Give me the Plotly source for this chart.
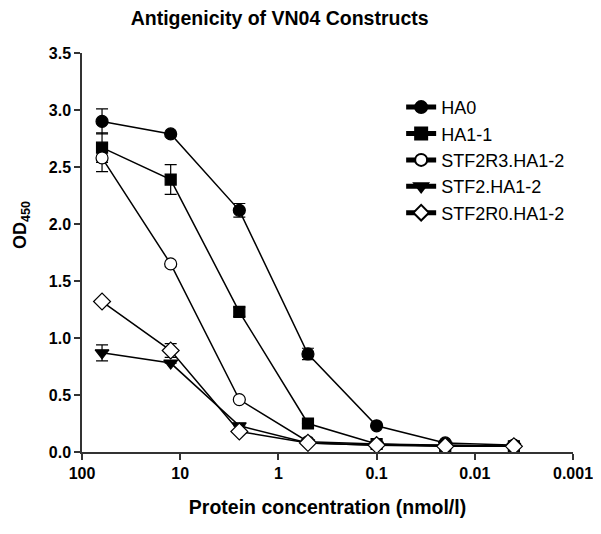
import plotly.graph_objects as go

conc = [62.5, 12.5, 2.5, 0.5, 0.1, 0.02, 0.004]

ha0 = [2.90, 2.79, 2.12, 0.86, 0.23, 0.08, 0.06]
ha0_err = [0.11, 0.0, 0.06, 0.05, 0.0, 0.0, 0.0]
ha11 = [2.67, 2.39, 1.23, 0.25, 0.07, 0.05, 0.05]
ha11_err = [0.13, 0.13, 0.04, 0.0, 0.0, 0.0, 0.0]
stf2r3 = [2.58, 1.65, 0.46, 0.09, 0.07, 0.06, 0.05]
stf2r3_err = [0.12, 0.0, 0.0, 0.0, 0.0, 0.0, 0.0]
stf2 = [0.87, 0.78, 0.23, 0.08, 0.06, 0.06, 0.05]
stf2_err = [0.07, 0.0, 0.0, 0.0, 0.0, 0.0, 0.0]
stf2r0 = [1.32, 0.89, 0.18, 0.08, 0.06, 0.05, 0.05]
stf2r0_err = [0.0, 0.06, 0.0, 0.0, 0.0, 0.0, 0.0]

series = [
    ("HA0", ha0, ha0_err, "circle", "black", 12),
    ("HA1-1", ha11, ha11_err, "square", "black", 11),
    ("STF2R3.HA1-2", stf2r3, stf2r3_err, "circle", "white", 12),
    ("STF2.HA1-2", stf2, stf2_err, "triangle-down", "black", 12),
    ("STF2R0.HA1-2", stf2r0, stf2r0_err, "diamond", "white", 13),
]

fig = go.Figure()
for name, vals, err, sym, fill, sz in series:
    fig.add_trace(go.Scatter(
        x=conc, y=vals, name=name, mode="lines+markers",
        line=dict(color="black", width=1.5),
        marker=dict(symbol=sym, size=sz, color=fill,
                    line=dict(color="black", width=1.2)),
        error_y=dict(type="data", array=err, visible=True,
                     color="black", thickness=1.2, width=6),
    ))

font_family = "Liberation Sans, Arial, sans-serif"
fig.update_layout(
    width=601, height=534,
    margin=dict(l=74, r=36, t=45, b=90),
    paper_bgcolor="white", plot_bgcolor="white",
    font=dict(family=font_family, color="black"),
    title=dict(text="<b>Antigenicity of VN04 Constructs</b>",
               x=0.452, xanchor="center", xref="container",
               y=0.981, yanchor="middle", yref="container",
               font=dict(size=19.5, family=font_family, color="black")),
    showlegend=True,
    legend=dict(x=0.650, y=0.91, xanchor="left", yanchor="top",
                bgcolor="rgba(0,0,0,0)", font=dict(size=18, family=font_family),
                tracegroupgap=0, itemsizing="constant"),
    xaxis=dict(type="log", range=[2, -3],
               tickvals=[100, 10, 1, 0.1, 0.01, 0.001],
               ticktext=["100", "10", "1", "0.1", "0.01", "0.001"],
               ticks="outside", ticklen=6, tickwidth=1.5, tickcolor="#333",
               showline=True, linecolor="#333", linewidth=1.5,
               showgrid=False, zeroline=False,
               tickfont=dict(size=16, family=font_family, weight="bold"),
               title=dict(text="<b>Protein concentration (nmol/l)</b>",
                          font=dict(size=19.5, family=font_family), standoff=19)),
    yaxis=dict(range=[0, 3.5], tickvals=[0, 0.5, 1, 1.5, 2, 2.5, 3, 3.5],
               ticktext=["0.0", "0.5", "1.0", "1.5", "2.0", "2.5", "3.0", "3.5"],
               ticks="outside", ticklen=6, tickwidth=1.5, tickcolor="#333",
               showline=True, linecolor="#333", linewidth=1.5,
               showgrid=False, zeroline=False,
               tickfont=dict(size=16, family=font_family, weight="bold")),
    annotations=[dict(text="<b>OD<sub>450</sub></b>", textangle=-90,
                      xref="paper", yref="paper", x=-0.122, y=0.569,
                      xanchor="center", yanchor="middle", showarrow=False,
                      font=dict(size=18, family=font_family, color="black"))],
)

fig.write_html("out.html")
